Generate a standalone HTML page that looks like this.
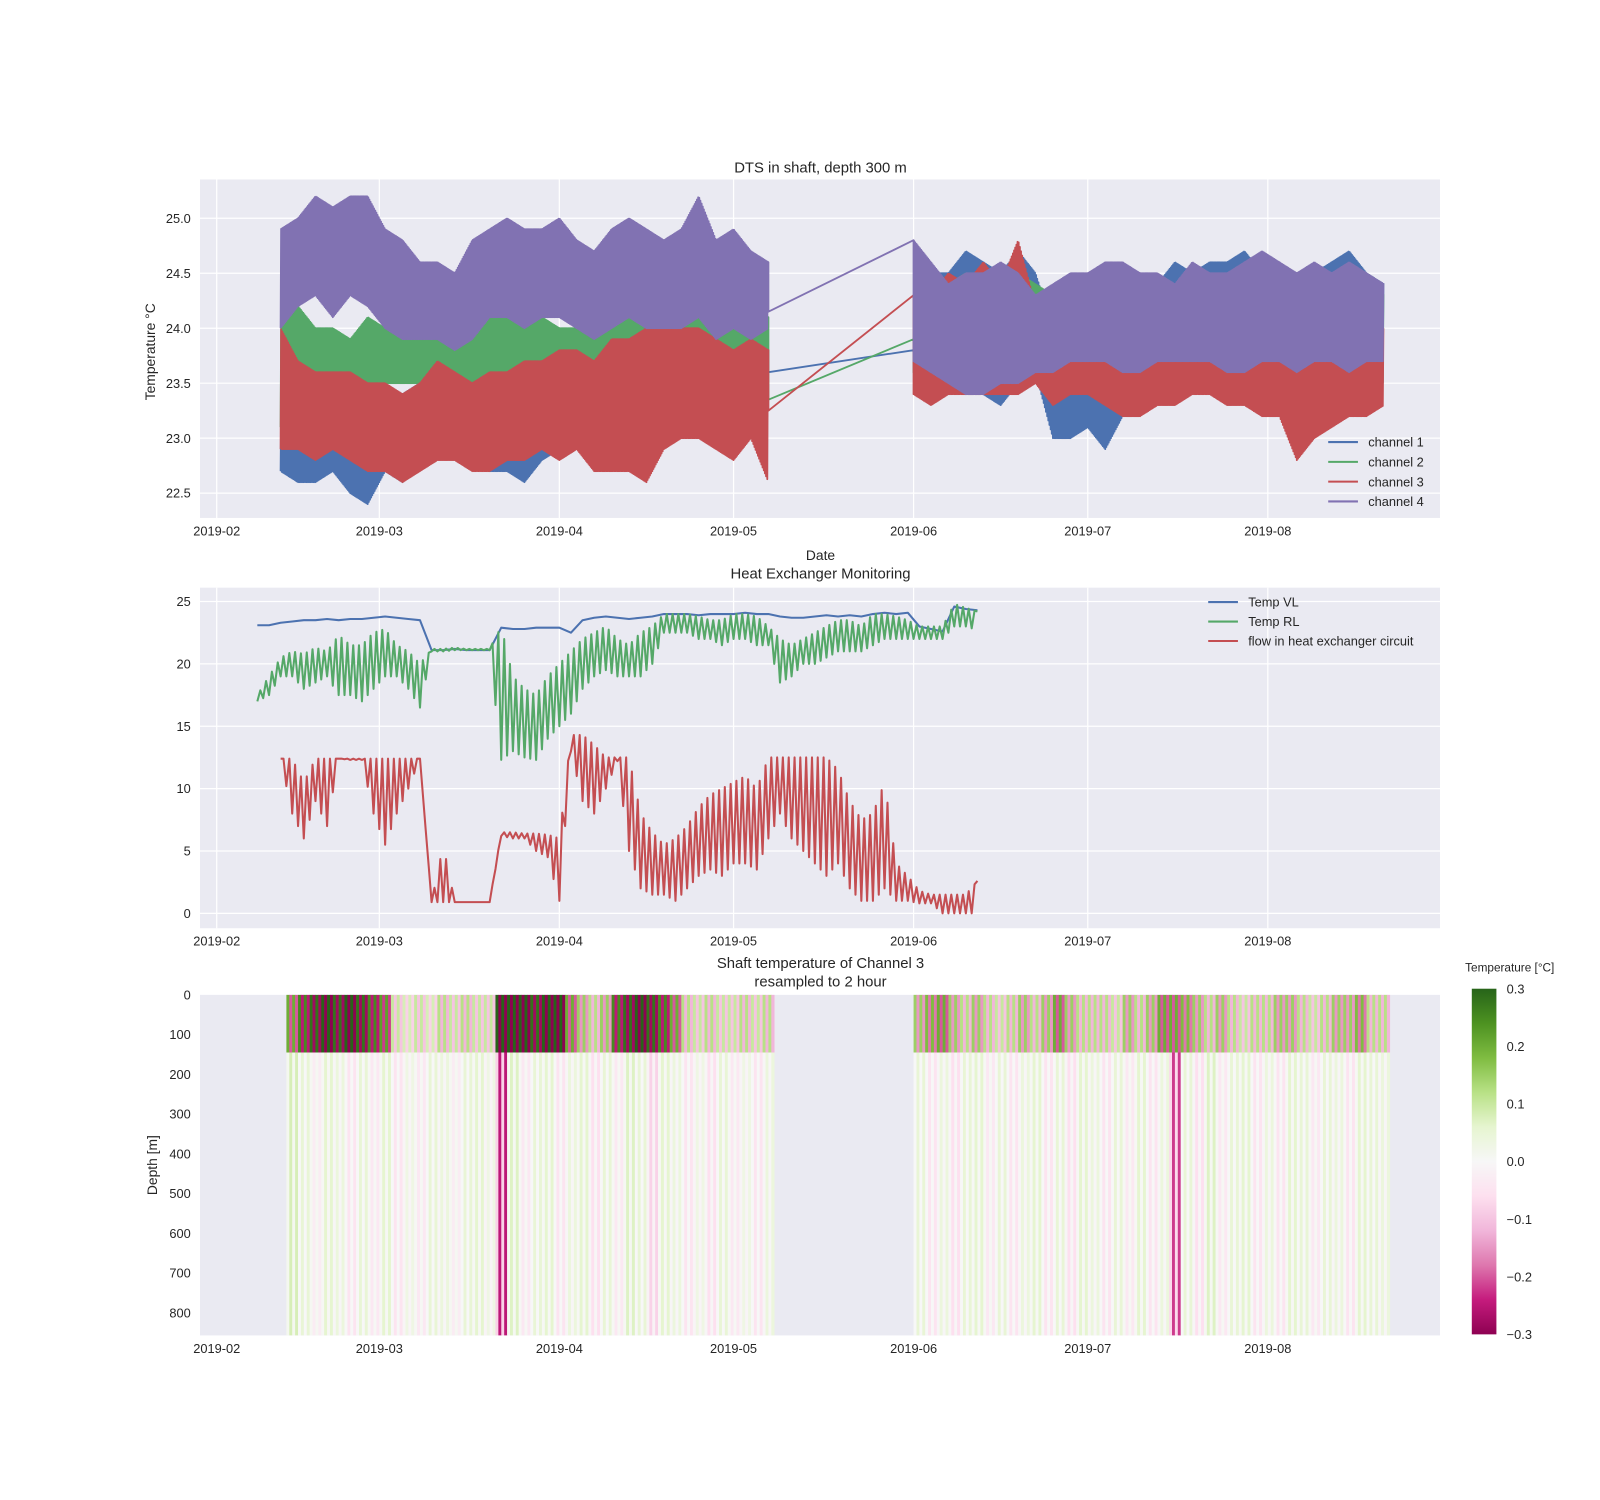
<!DOCTYPE html>
<html><head><meta charset="utf-8"><style>
html,body{margin:0;padding:0;background:#fff;}
svg{display:block;font-family:"Liberation Sans",sans-serif;}
</style></head><body>
<svg id="fig" width="1600" height="1500" viewBox="0 0 1560 1462.5" xmlns="http://www.w3.org/2000/svg">
<defs>
<linearGradient id="piyg" x1="0" y1="1" x2="0" y2="0">
<stop offset="0" stop-color="#8e0152"/><stop offset="0.1" stop-color="#c51b7d"/><stop offset="0.2" stop-color="#de77ae"/><stop offset="0.3" stop-color="#f1b6da"/><stop offset="0.4" stop-color="#fde0ef"/><stop offset="0.5" stop-color="#f7f7f7"/><stop offset="0.6" stop-color="#e6f5d0"/><stop offset="0.7" stop-color="#b8e186"/><stop offset="0.8" stop-color="#7fbc41"/><stop offset="0.9" stop-color="#4d9221"/><stop offset="1" stop-color="#276419"/>
</linearGradient>
</defs>
</svg>
<script>
// ---- data: top panel (DTS, 3-day samples) ----
const dtsSeg1Start = 11, dtsSeg2Start = 120, dtsStep = 3;
const ch1Hi1 = [23.2,23.4,23.3,23.4,23.5,23.3,23.4,23.4,23.5,23.6,23.6,23.5,23.6,23.7,23.6,23.7,23.7,23.8,23.8,23.9,23.8,23.9,23.9,24.0,24.0,23.9,23.9,24.0,23.8];
const ch1Lo1 = [22.7,22.6,22.6,22.7,22.5,22.4,22.7,22.6,22.9,22.9,22.9,22.8,22.7,22.7,22.6,22.8,22.9,23.0,22.9,22.9,23.0,23.1,23.1,23.2,23.2,23.2,23.1,23.1,23.2];
const ch1Hi2 = [24.0,24.5,24.5,24.7,24.6,24.5,24.7,24.5,24.0,24.5,24.4,24.6,24.3,24.2,24.4,24.6,24.5,24.6,24.6,24.7,24.5,24.6,24.4,24.5,24.6,24.7,24.5,24.4];
const ch1Lo2 = [23.6,23.6,23.5,23.5,23.4,23.3,23.5,23.6,23.0,23.0,23.1,22.9,23.2,23.3,23.4,23.5,23.5,23.5,23.4,23.6,23.6,23.5,23.5,23.4,23.5,23.5,23.6,23.5];
const ch2Hi1 = [24.0,24.2,24.0,24.0,23.9,24.1,24.0,24.0,24.0,24.0,24.0,24.2,24.1,24.2,24.1,24.1,24.0,24.0,24.0,24.2,24.1,24.2,24.3,24.4,24.2,24.0,24.1,24.1,24.1];
const ch2Lo1 = [23.1,23.3,23.2,23.4,23.4,23.4,23.5,23.5,23.5,23.4,23.5,23.4,23.5,23.4,23.4,23.4,23.5,23.4,23.5,23.5,23.5,23.4,23.5,23.5,23.5,23.4,23.3,23.3,23.3];
const ch2Hi2 = [24.3,24.3,24.4,24.5,24.4,24.5,24.5,24.4,24.3,24.3,24.3,24.4,24.3,24.4,24.3,24.4,24.4,24.3,24.4,24.4,24.4,24.4,24.3,24.5,24.4,24.3,24.4,24.3];
const ch2Lo2 = [23.6,23.6,23.6,23.6,23.5,23.6,23.6,23.6,23.4,23.5,23.4,23.5,23.4,23.5,23.5,23.6,23.6,23.5,23.4,23.5,23.6,23.5,23.2,23.5,23.5,23.5,23.5,23.5];
const ch3Hi1 = [24.0,23.7,23.6,23.6,23.6,23.5,23.5,23.4,23.5,23.7,23.6,23.5,23.6,23.6,23.7,23.7,23.8,23.8,23.7,23.9,23.9,24.0,24.0,24.0,24.0,23.9,23.8,23.9,23.8];
const ch3Lo1 = [22.9,22.9,22.8,22.9,22.8,22.7,22.7,22.6,22.7,22.8,22.8,22.7,22.7,22.8,22.8,22.9,22.8,22.9,22.7,22.7,22.7,22.6,22.9,23.0,23.0,22.9,22.8,23.0,22.6];
const ch3Hi2 = [24.3,24.3,24.5,24.4,24.6,24.4,24.8,24.2,24.1,24.2,24.2,24.3,24.2,24.3,24.4,24.3,24.4,24.3,24.2,24.0,24.1,24.2,24.0,23.9,24.0,24.1,24.0,24.0];
const ch3Lo2 = [23.4,23.3,23.4,23.4,23.4,23.4,23.4,23.5,23.3,23.4,23.4,23.3,23.2,23.2,23.3,23.3,23.4,23.4,23.3,23.3,23.2,23.2,22.8,23.0,23.1,23.2,23.2,23.3];
const ch4Hi1 = [24.9,25.0,25.2,25.1,25.2,25.2,24.9,24.8,24.6,24.6,24.5,24.8,24.9,25.0,24.9,24.9,25.0,24.8,24.7,24.9,25.0,24.9,24.8,24.9,25.2,24.8,24.9,24.7,24.6];
const ch4Lo1 = [24.0,24.2,24.3,24.1,24.3,24.2,24.0,23.9,23.9,23.9,23.8,23.9,24.1,24.1,24.0,24.1,24.1,24.0,23.9,24.0,24.1,24.0,24.0,24.0,24.1,23.9,24.0,23.9,24.0];
const ch4Hi2 = [24.8,24.6,24.4,24.5,24.5,24.6,24.5,24.3,24.4,24.5,24.5,24.6,24.6,24.5,24.5,24.4,24.6,24.5,24.5,24.6,24.7,24.6,24.5,24.6,24.5,24.6,24.5,24.4];
const ch4Lo2 = [23.7,23.6,23.5,23.4,23.4,23.5,23.5,23.6,23.6,23.7,23.7,23.7,23.6,23.6,23.7,23.7,23.7,23.7,23.6,23.6,23.7,23.7,23.6,23.7,23.7,23.6,23.7,23.7];
const bridgeFrom = [23.6,23.35,23.25,24.15];
const bridgeTo = [23.8,23.9,24.3,24.8];
const dtsYTicks = [22.5,23.0,23.5,24.0,24.5,25.0];
const monthLabels = ["2019-02","2019-03","2019-04","2019-05","2019-06","2019-07","2019-08"];
const monthDays = [0,28,59,89,120,150,181];
// ---- data: middle panel (2-day samples from day 7) ----
const hxStart = 7, hxStep = 2;
const vl = [23.1,23.1,23.3,23.4,23.5,23.5,23.6,23.5,23.6,23.6,23.7,23.8,23.7,23.6,23.5,21.1,21.1,21.2,21.1,21.1,21.1,22.9,22.8,22.8,22.9,22.9,22.9,22.5,23.5,23.7,23.8,23.7,23.6,23.7,23.8,24.0,24.0,24.0,23.9,24.0,24.0,24.0,24.1,24.0,24.0,23.8,23.7,23.7,23.8,23.9,23.8,23.9,23.8,24.0,24.1,24.0,24.1,23.0,22.8,22.6,24.6,24.4,24.3];
const rlLo = [17.0,17.5,19,19,18,18.5,19,17.5,17.5,17,18,19,19,18,16.5,21,21,21.1,21.1,21.1,21.1,12.3,13,12.5,12.3,14,15,16,18,19,19.5,19,19,19,20,22.5,22.5,22.5,22,22,21.5,22,22,21.5,21.5,18.5,19,20,20,20.5,21,21,21,21.5,22,22,22,22,22,22,23,23,22.7];
const rlHi = [17.5,19,20.5,21,20.8,21.3,21,22.3,21.5,21.5,22.5,22.8,21.5,21,20,21.2,21.2,21.3,21.2,21.2,21.2,23,19,18,17.5,19,20,21,22,22.5,23,22,21.5,22.5,23,24,24,24,23.8,23.5,23.5,24,24,23.8,23,22,21.5,22,22.5,23,23.5,23.5,23,24,24,23.8,23.5,23,23,23,24.8,24.5,24.2];
const flowLo = [null,null,12.4,8,6,9,7,12.4,12.3,12.3,8,5.5,8,10,12.4,0.9,0.9,0.9,0.9,0.9,0.9,6.2,6.0,6.0,5.0,4.5,1,13,9,8,10,12.2,5,2,1.5,1.5,1,2,3,3.5,3,4,4,3.5,6,8,6,5,4,3,4,2,1,1,2,1,1,0.8,0.8,0,0,0,0];
const flowHi = [null,null,12.4,12.4,10.5,12.4,12.4,12.4,12.4,12.4,12.4,12.4,12.4,12.4,12.4,0.9,5.5,0.9,0.9,0.9,0.9,6.5,6.5,6.4,6.4,6.3,6,14.3,14.3,13.5,12.5,12.5,12.5,8,6.5,5.5,6,7,8.5,9.5,10,10.5,11,10,12.5,12.5,12.5,12.5,12.5,12.5,11.5,9,7.5,8,10.5,4,3,1.8,1.5,1.5,1.5,1.5,2.6];
const hxYTicks = [0,5,10,15,20,25];
// ---- data: heatmap (2-day columns) ----
const hmSeg1Start = 12, hmSeg2Start = 120, hmStep = 2;
const body1 = [0.08,0.05,-0.03,0.06,0.04,-0.05,0.05,-0.04,0.06,-0.05,0.03,-0.04,0.05,0.04,-0.03,0.05,0.06,0.03,-0.25,0.07,-0.04,0.05,0.06,-0.05,0.04,0.06,-0.06,0.05,-0.04,0.07,0.05,-0.08,0.06,0.04,-0.05,0.03,-0.06,0.05,-0.04,0.03,-0.05,0.04];
const top1 = [0.2,0.25,0.28,0.3,0.28,0.3,0.28,0.25,0.22,0.1,0.08,0.1,0.08,0.12,0.1,0.12,0.1,0.1,0.3,0.3,0.3,0.28,0.3,0.3,0.2,0.15,0.12,0.15,0.25,0.28,0.3,0.28,0.25,0.2,0.12,0.1,0.12,0.1,0.1,0.12,0.1,0.12];
const body2 = [0.05,-0.05,0.04,-0.06,0.05,0.06,-0.04,0.05,-0.05,0.04,0.06,-0.05,0.05,-0.06,0.06,0.04,-0.05,0.05,-0.04,0.06,-0.05,0.04,-0.22,0.05,-0.06,0.07,-0.04,0.05,0.06,-0.05,0.04,-0.05,0.06,0.05,-0.04,0.05,0.04,-0.05,0.06,0.05,0.04];
const top2 = [0.15,0.18,0.2,0.15,0.12,0.15,0.12,0.1,0.12,0.15,0.12,0.15,0.2,0.15,0.12,0.12,0.12,0.1,0.15,0.12,0.15,0.2,0.2,0.18,0.15,0.12,0.15,0.12,0.1,0.12,0.12,0.15,0.15,0.12,0.1,0.12,0.15,0.15,0.18,0.12,0.12];
const depthTicks = [0,100,200,300,400,500,600,700,800];
const cbTicks = [-0.3,-0.2,-0.1,0.0,0.1,0.2,0.3];

const NS = "http://www.w3.org/2000/svg";
const svg = document.getElementById('fig');
function el(tag, attrs, parent, text){const e=document.createElementNS(NS,tag);for(const k in attrs)e.setAttribute(k,attrs[k]);if(text!==undefined)e.textContent=text;(parent||svg).appendChild(e);return e;}
const AX_L=195, AX_R=1404;
const xDay = d => 211.3 + d*5.662;
const COL = ["#4c72b0","#55a868","#c44e52","#8172b2"];
const TXT = "#262626";

function axesFrame(name, top, bottom, grid){
  const g = el('g',{});  
  el('rect',{x:AX_L,y:top,width:AX_R-AX_L,height:bottom-top,fill:'#eaeaf2'},g);
  monthDays.forEach((d,i)=>{
    if(grid){el('line',{x1:xDay(d),x2:xDay(d),y1:top,y2:bottom,stroke:'#fff','stroke-width':1.2},g);}
    const t=el('text',{x:xDay(d),y:bottom+17,'font-size':12.5,fill:TXT,'text-anchor':'middle'},g,monthLabels[i]);
     
  });
  return g;
}

// ---------- Panel 1 ----------
const P1T=175, P1B=505;
const y1 = v => 212.8 - (v-25.0)*107.2;
const g1 = axesFrame('dts-axes',P1T,P1B,true);
dtsYTicks.forEach(v=>{
  el('line',{x1:AX_L,x2:AX_R,y1:y1(v),y2:y1(v),stroke:'#fff','stroke-width':1.2},g1);
  const t=el('text',{x:AX_L-9,y:y1(v)+4.5,'font-size':12.5,fill:TXT,'text-anchor':'end'},g1,v.toFixed(1));
   
});
const clip1 = el('clipPath',{id:'c1'}); el('rect',{x:AX_L,y:P1T,width:AX_R-AX_L,height:P1B-P1T},clip1);
function zigzag(lo,hi,start,step,yf,S){
  const pts=[];
  for(let k=0;k<lo.length;k++){
    if(lo[k]===null)continue;
    if(k===lo.length-1||lo[k+1]===null){pts.push([xDay(start+k*step),yf(hi[k])]);continue;}
    for(let s=0;s<S;s++){
      const f=s/S, L=lo[k]+(lo[k+1]-lo[k])*f, H=hi[k]+(hi[k+1]-hi[k])*f;
      pts.push([xDay(start+(k+f)*step), yf(s%2?H:L)]);
    }
  }
  return pts;
}
const dtsSeries=[[ch1Lo1,ch1Hi1,ch1Lo2,ch1Hi2],[ch2Lo1,ch2Hi1,ch2Lo2,ch2Hi2],[ch3Lo1,ch3Hi1,ch3Lo2,ch3Hi2],[ch4Lo1,ch4Hi1,ch4Lo2,ch4Hi2]];
const lines1 = el('g',{'clip-path':'url(#c1)'},g1);
dtsSeries.forEach((s,i)=>{
  const p1=zigzag(s[0],s[1],dtsSeg1Start,dtsStep,y1,30);
  const p2=zigzag(s[2],s[3],dtsSeg2Start,dtsStep,y1,30);
  const endX=xDay(dtsSeg1Start+(s[0].length-1)*dtsStep);
  const pts=p1.concat([[endX,y1(bridgeFrom[i])],[xDay(dtsSeg2Start),y1(bridgeTo[i])]]).concat(p2);
  const pl=el('polyline',{points:pts.map(p=>p[0].toFixed(1)+','+p[1].toFixed(1)).join(' '),fill:'none',stroke:COL[i],'stroke-width':1.8,'stroke-linejoin':'round'},lines1);
   
});
el('text',{x:800,y:168,'font-size':14.5,fill:TXT,'text-anchor':'middle'},g1,'DTS in shaft, depth 300 m');
el('text',{x:0,y:0,'font-size':13.5,fill:TXT,'text-anchor':'middle',transform:'translate(151,343) rotate(-90)'},g1,'Temperature °C');
el('text',{x:800,y:546,'font-size':13.5,fill:TXT,'text-anchor':'middle'},g1,'Date');
const leg1 = el('g',{},g1);  
["channel 1","channel 2","channel 3","channel 4"].forEach((n,i)=>{
  const yy=431+i*19.3;
  const e=el('g',{},leg1);  
  el('line',{x1:1295,x2:1324,y1:yy,y2:yy,stroke:COL[i],'stroke-width':2},e);
  el('text',{x:1334,y:yy+4.5,'font-size':12.5,fill:TXT},e,n);
});

// ---------- Panel 2 ----------
const P2T=573, P2B=905;
const y2 = v => 890.5 - v*12.16;
const g2 = axesFrame('heat-exchanger-axes',P2T,P2B,true);
hxYTicks.forEach(v=>{
  el('line',{x1:AX_L,x2:AX_R,y1:y2(v),y2:y2(v),stroke:'#fff','stroke-width':1.2},g2);
  const t=el('text',{x:AX_L-9,y:y2(v)+4.5,'font-size':12.5,fill:TXT,'text-anchor':'end'},g2,String(v));
   
});
function ptsStr(p){return p.map(q=>q[0].toFixed(1)+','+q[1].toFixed(1)).join(' ');}
const vlPts = vl.map((v,k)=>[xDay(hxStart+k*hxStep),y2(v)]);
const hxLines=[vlPts, zigzag(rlLo,rlHi,hxStart,hxStep,y2,4), zigzag(flowLo,flowHi,hxStart,hxStep,y2,4)];
const hxNames=['temp-vl-line','temp-rl-line','flow-line'];
hxLines.forEach((p,i)=>{
  const pl=el('polyline',{points:ptsStr(p),fill:'none',stroke:COL[i],'stroke-width':2,'stroke-linejoin':'round'},g2);
   
});
el('text',{x:800,y:564,'font-size':14.5,fill:TXT,'text-anchor':'middle'},g2,'Heat Exchanger Monitoring');
const leg2 = el('g',{},g2);  
["Temp VL","Temp RL","flow in heat exchanger circuit"].forEach((n,i)=>{
  const yy=587+i*19;
  const e=el('g',{},leg2);  
  el('line',{x1:1178,x2:1207,y1:yy,y2:yy,stroke:COL[i],'stroke-width':2},e);
  el('text',{x:1217,y:yy+4.5,'font-size':12.5,fill:TXT},e,n);
});

// ---------- Panel 3 (heatmap) ----------
const P3T=970, P3B=1302;
const yD = d => 970 + d*0.3875;
const g3 = axesFrame('heatmap-axes',P3T,P3B,false);
const stops=[[0x8e,0x01,0x52],[0xc5,0x1b,0x7d],[0xde,0x77,0xae],[0xf1,0xb6,0xda],[0xfd,0xe0,0xef],[0xf7,0xf7,0xf7],[0xe6,0xf5,0xd0],[0xb8,0xe1,0x86],[0x7f,0xbc,0x41],[0x4d,0x92,0x21],[0x27,0x64,0x19]];
function cmap(v){let f=(v+0.3)/0.6;f=Math.max(0,Math.min(1,f))*10;const i=Math.min(9,Math.floor(f)),r=f-i;const a=stops[i],b=stops[i+1];return 'rgb('+a.map((c,j)=>Math.round(c+(b[j]-c)*r)).join(',')+')';}
const hmG = el('g',{},g3);  
const TOPD = 145;
function drawHM(body,top,start){
  const w=xDay(hmStep)-xDay(0);
  body.forEach((v,k)=>{
    const x0=xDay(start+k*hmStep);
    const sub=4, sw=w/sub;
    for(let s=0;s<sub;s++){
      const bv = s%2 ? v : v*0.4 - 0.02*Math.sign(v);
      const c=el('rect',{x:(x0+s*sw).toFixed(2),y:yD(TOPD).toFixed(2),width:(sw+0.3).toFixed(2),height:(P3B-yD(TOPD)).toFixed(2),fill:cmap(bv)},hmG);
       
      const tv = (s%2?-1:1)*top[k];
      const t=el('rect',{x:(x0+s*sw).toFixed(2),y:P3T,width:(sw+0.3).toFixed(2),height:(yD(TOPD)-P3T).toFixed(2),fill:cmap(tv)},hmG);
       
    }
  });
}
drawHM(body1,top1,hmSeg1Start);
drawHM(body2,top2,hmSeg2Start);
depthTicks.forEach(d=>{
  const t=el('text',{x:AX_L-9,y:yD(d)+4.5,'font-size':12.5,fill:TXT,'text-anchor':'end'},g3,String(d));
   
});
el('text',{x:800,y:944,'font-size':14.5,fill:TXT,'text-anchor':'middle'},g3,'Shaft temperature of Channel 3');
el('text',{x:800,y:962,'font-size':14.5,fill:TXT,'text-anchor':'middle'},g3,'resampled to 2 hour');
el('text',{x:0,y:0,'font-size':13.5,fill:TXT,'text-anchor':'middle',transform:'translate(153,1136) rotate(-90)'},g3,'Depth [m]');
// colorbar
const cb = el('g',{});  
const CBT=964, CBB=1301;
el('rect',{x:1435,y:CBT,width:24,height:CBB-CBT,fill:'url(#piyg)'},cb);
const yC = v => CBB - (v+0.3)/0.6*(CBB-CBT);
cbTicks.forEach(v=>{
  const lab = v===0?'0.0':(v<0?'\u2212'+Math.abs(v).toFixed(1):v.toFixed(1));
  const t=el('text',{x:1469,y:yC(v)+4.5,'font-size':12.5,fill:TXT},cb,lab);
   
});
el('text',{x:1472,y:947,'font-size':11.5,fill:TXT,'text-anchor':'middle'},cb,'Temperature [°C]');
</script>
</body></html>
